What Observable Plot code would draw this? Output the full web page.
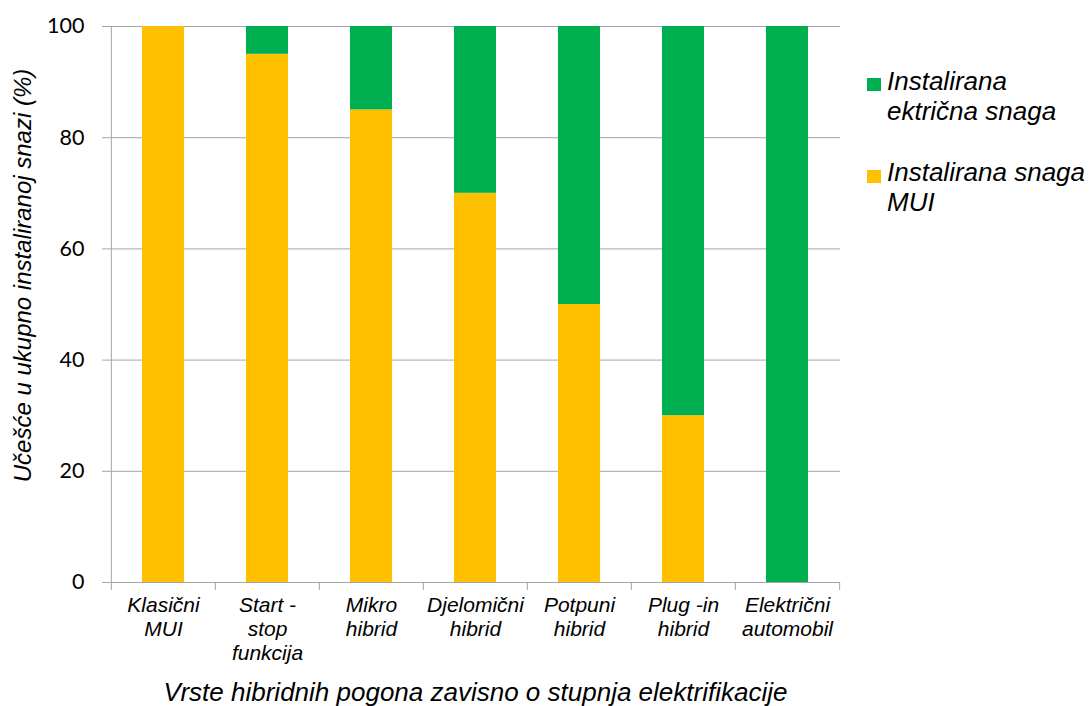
<!DOCTYPE html>
<html>
<head>
<meta charset="utf-8">
<script src="https://cdn.jsdelivr.net/npm/d3@7"></script>
<script src="https://cdn.jsdelivr.net/npm/@observablehq/plot@0.6"></script>
<style>
  html, body { margin: 0; padding: 0; background: #fff; }
  #wrap { position: relative; width: 1092px; height: 706px; }
  .leg { position: absolute; font-family: "Liberation Sans", Arial, sans-serif; font-style: italic; font-size: 26px; line-height: 30px; color: #000; white-space: nowrap; }
  .sw { position: absolute; width: 14px; height: 13px; }
</style>
</head>
<body>
<div id="wrap"></div>
<script>
const categories = ["Klasični\nMUI", "Start -\nstop\nfunkcija", "Mikro\nhibrid", "Djelomični\nhibrid", "Potpuni\nhibrid", "Plug -in\nhibrid", "Električni\nautomobil"];
const muiValues = [100, 95, 85, 70, 50, 30, 0];
const elecValues = [0, 5, 15, 30, 50, 70, 100];
const seriesNames = ["Instalirana snaga MUI", "Instalirana ektrična snaga"];
const seriesColors = ["#FFC000", "#00B050"];
const yTicks = [0, 20, 40, 60, 80, 100];

const data = [];
categories.forEach((c, i) => {
  data.push({cat: c, series: seriesNames[0], value: muiValues[i]});
  data.push({cat: c, series: seriesNames[1], value: elecValues[i]});
});

const W = 1092, H = 706, mL = 110, mR = 252, mT = 26, mB = 124;
const step = (W - mL - mR) / categories.length;
const grey = "#A6A6A6";

const chart = Plot.plot({
  width: W, height: H,
  marginLeft: mL, marginRight: mR, marginTop: mT, marginBottom: mB,
  x: {domain: categories, paddingInner: 0.6, paddingOuter: 0.3, align: 0.5},
  y: {domain: [0, 100]},
  color: {domain: seriesNames, range: seriesColors},
  style: {background: "white"},
  marks: [
    Plot.ruleY(yTicks.filter(d => d > 0), {stroke: grey, strokeWidth: 1}),
    Plot.barY(data, {x: "cat", y: "value", fill: "series", order: seriesNames}),
    Plot.ruleY([0], {stroke: grey, strokeWidth: 1}),
    Plot.ruleX([categories[0]], {dx: -step / 2, stroke: grey, strokeWidth: 1, y1: 0, y2: 100}),
    Plot.axisY({ticks: yTicks, tickSize: 8, tickPadding: 18, stroke: grey, label: null,
      fontFamily: "Lato, 'Open Sans', sans-serif", fontSize: 21.5, fill: "#000"}),
    Plot.axisX({tickSize: 8, dx: -step / 2, stroke: grey, tickFormat: () => "", label: null}),
    Plot.axisX({ticks: [categories[categories.length - 1]], tickSize: 8, dx: step / 2, stroke: grey, tickFormat: () => "", label: null}),
    Plot.axisX({tickSize: 0, tickPadding: 12, label: null, fontFamily: "'Liberation Sans', Arial, sans-serif",
      fontStyle: "italic", fontSize: 21, lineHeight: 1.15, fill: "#000"}),
    Plot.text(["Vrste hibridnih pogona zavisno o stupnja elektrifikacije"], {
      frameAnchor: "bottom", dy: 110, fontFamily: "'Liberation Sans', Arial, sans-serif",
      fontStyle: "italic", fontSize: 26, fill: "#000", textAnchor: "middle", lineAnchor: "middle"
    }),
    Plot.text(["Učešće u ukupno instaliranoj snazi (%)"], {
      frameAnchor: "left", dx: -87, dy: -29, rotate: -90, fontFamily: "'Liberation Sans', Arial, sans-serif",
      fontStyle: "italic", fontSize: 24, fill: "#000", textAnchor: "middle", lineAnchor: "middle"
    })
  ]
});

const wrap = document.getElementById("wrap");
wrap.appendChild(chart);

function legendItem(top, swTop, color, lines) {
  const sw = document.createElement("div");
  sw.className = "sw"; sw.style.left = "867px"; sw.style.top = swTop + "px"; sw.style.background = color;
  wrap.appendChild(sw);
  const t = document.createElement("div");
  t.className = "leg"; t.style.left = "887px"; t.style.top = top + "px";
  t.innerHTML = lines.join("<br>");
  wrap.appendChild(t);
}
legendItem(66, 78, seriesColors[1], ["Instalirana", "ektrična snaga"]);
legendItem(157, 170, seriesColors[0], ["Instalirana snaga", "MUI"]);
</script>
</body>
</html>
